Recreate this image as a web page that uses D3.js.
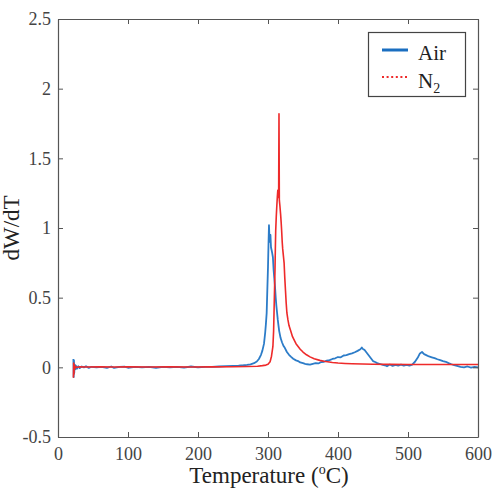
<!DOCTYPE html>
<html><head><meta charset="utf-8">
<script src="https://cdn.jsdelivr.net/npm/d3@7"></script>
<style>body{margin:0;background:#fff}svg{display:block}</style>
</head><body>
<script>
const xTicks = [0,100,200,300,400,500,600];
const yTicks = [-0.5,0,0.5,1,1.5,2,2.5];
const yTickLabels = ["-0.5","0","0.5","1","1.5","2","2.5"];
const seriesNames = ["Air","N2"];
// Air: [temperature, dW/dT]
const airData = [
[22,0.06],[22.4,-0.07],[22.8,0.05],[23.2,-0.04],[23.8,0.02],[24.5,-0.015],[25.5,0.012],[27,-0.01],[29,0.008],[31,-0.006],[34,0.006],[37,0],[40,0.008],[44,-0.004],[48,0.004],[55,0],[62,0.004],[70,-0.004],[76,0.006],[80,-0.004],[88,0.003],[95,0.005],[100,-0.003],[110,0.004],[120,0],[130,0.004],[140,-0.003],[150,0.003],[160,0],[170,0.004],[180,-0.002],[190,0.006],[200,0],[210,0.004],[220,0.003],[230,0.006],[240,0.008],[250,0.01],[258,0.012],[265,0.015],[270,0.018],[275,0.022],[280,0.03],[284,0.042],[287,0.06],[290,0.09],[292,0.12],[294.3,0.17],[296,0.25],[297,0.31],[298.1,0.39],[299,0.55],[300,0.72],[300.7,0.88],[301.4,1.02],[302,0.94],[302.8,0.9],[303.5,0.95],[304.3,0.86],[305.2,0.84],[306,0.82],[307,0.79],[308,0.7],[309,0.64],[310,0.58],[311,0.5],[312,0.44],[313,0.39],[314,0.34],[315,0.3],[316,0.26],[318,0.21],[320,0.18],[322,0.155],[324,0.14],[327,0.11],[330,0.09],[333,0.075],[336,0.062],[340,0.05],[343,0.045],[346,0.035],[350,0.03],[353,0.025],[356,0.022],[360,0.02],[364,0.025],[368,0.03],[372,0.028],[376,0.038],[380,0.04],[384,0.048],[388,0.052],[392,0.06],[396,0.065],[400,0.074],[404,0.072],[408,0.085],[412,0.088],[416,0.095],[420,0.1],[424,0.108],[428,0.118],[432,0.13],[434,0.142],[436,0.13],[438,0.125],[441,0.105],[444,0.085],[447,0.065],[450,0.045],[453,0.038],[456,0.03],[460,0.024],[464,0.018],[467,0.015],[470,0.008],[474,0.02],[478,0.01],[482,0.018],[486,0.012],[490,0.02],[494,0.012],[498,0.018],[502,0.012],[506,0.02],[510,0.04],[514,0.07],[517,0.1],[520,0.11],[523,0.095],[526,0.088],[530,0.078],[534,0.072],[538,0.066],[542,0.058],[546,0.052],[550,0.045],[554,0.04],[558,0.03],[562,0.022],[566,0.015],[570,0.01],[575,0.003],[580,0.0],[585,0.006],[590,-0.002],[595,0.004],[600,0.0]
];
// N2: [temperature, dW/dT]
const n2Data = [
[22,-0.075],[22.4,0.03],[22.8,-0.05],[23.3,0.02],[24,-0.01],[25,0.005],[27,0],[30,0.003],[40,0.002],[60,0.003],[80,0.002],[100,0.003],[130,0.002],[160,0.003],[190,0.002],[220,0.003],[250,0.004],[270,0.006],[285,0.008],[292,0.012],[297,0.016],[300,0.022],[303,0.04],[305,0.08],[307,0.15],[308,0.26],[308.6,0.39],[309.3,0.55],[310,0.7],[310.5,0.85],[311,0.98],[311.8,1.08],[312.5,1.15],[313.3,1.22],[314,1.27],[314.6,1.24],[315.2,1.22],[315.7,1.82],[316.2,1.2],[317,1.16],[318,1.1],[318.8,1.04],[319.5,0.98],[320.3,0.9],[321,0.85],[322,0.8],[322.6,0.77],[323,0.75],[324,0.64],[325,0.55],[326,0.46],[327,0.39],[328.5,0.34],[330,0.3],[332.5,0.26],[335,0.22],[338,0.19],[340,0.17],[343,0.15],[346,0.13],[350,0.11],[355,0.09],[360,0.075],[366,0.062],[374,0.05],[380,0.044],[385,0.04],[392,0.035],[400,0.031],[410,0.028],[420,0.026],[435,0.024],[450,0.022],[475,0.021],[500,0.02],[530,0.02],[560,0.02],[600,0.02]
];

const W = 494, H = 489;
const m = {left:58, right:16, top:19, bottom:52};
const svg = d3.select("body").append("svg").attr("width",W).attr("height",H);
const x = d3.scaleLinear().domain([0,600]).range([m.left, W-m.right]);
const y = d3.scaleLinear().domain([-0.5,2.5]).range([H-m.bottom, m.top]);
const font = "'Times New Roman', 'Liberation Serif', 'DejaVu Serif', serif";
const axisColor = "#555";

// data lines
const line = d3.line().x(d=>x(d[0])).y(d=>y(d[1]));
svg.append("path").datum(airData).attr("d",line).attr("fill","none")
  .attr("stroke","#2c7cc8").attr("stroke-width",1.8).attr("stroke-linejoin","round");
svg.append("path").datum(n2Data).attr("d",line).attr("fill","none")
  .attr("stroke","#ee2a2a").attr("stroke-width",1.6).attr("stroke-linejoin","round");

// axes (inward ticks, box)
const tl = 5;
const gB = svg.append("g").attr("transform",`translate(0,${y(-0.5)})`)
  .call(d3.axisBottom(x).tickValues(xTicks).tickSizeInner(-tl).tickSizeOuter(0).tickPadding(10));
const gT = svg.append("g").attr("transform",`translate(0,${y(2.5)})`)
  .call(d3.axisTop(x).tickValues(xTicks).tickSizeInner(-tl).tickSizeOuter(0).tickFormat(""));
const gL = svg.append("g").attr("transform",`translate(${x(0)},0)`)
  .call(d3.axisLeft(y).tickValues(yTicks).tickSizeInner(-tl).tickSizeOuter(0).tickPadding(7)
  .tickFormat((d,i)=>yTickLabels[i]));
const gR = svg.append("g").attr("transform",`translate(${x(600)},0)`)
  .call(d3.axisRight(y).tickValues(yTicks).tickSizeInner(-tl).tickSizeOuter(0).tickFormat(""));
[gB,gT,gL,gR].forEach(g=>{
  g.attr("font-family",null);
  g.select(".domain").attr("stroke",axisColor).attr("stroke-width",1.2);
  g.selectAll(".tick line").attr("stroke",axisColor);
  g.selectAll("text").style("font-family",font).attr("font-size",18).attr("fill","#444");
});

// axis labels
const xl = svg.append("text").attr("x",269).attr("y",483).attr("text-anchor","middle")
  .style("font-family",font).attr("font-size",23).attr("fill","#222");
xl.append("tspan").text("Temperature (");
xl.append("tspan").attr("font-size",14).attr("dy",-9).text("o");
xl.append("tspan").attr("dy",9).text("C)");
svg.append("text").attr("transform",`translate(19,${y(1)}) rotate(-90)`).attr("text-anchor","middle")
  .style("font-family",font).attr("font-size",23).attr("fill","#222").text("dW/dT");

// legend
const lg = svg.append("g");
lg.append("rect").attr("x",368.5).attr("y",32.5).attr("width",97).attr("height",64)
  .attr("fill","#fff").attr("stroke","#444").attr("stroke-width",1.2);
lg.append("line").attr("x1",382).attr("x2",408).attr("y1",50).attr("y2",50)
  .attr("stroke","#1a6ec0").attr("stroke-width",3);
lg.append("line").attr("x1",382).attr("x2",408).attr("y1",77).attr("y2",77)
  .attr("stroke","#ee2a2a").attr("stroke-width",2.2).attr("stroke-dasharray","2,2.6");
lg.append("text").attr("x",418).attr("y",60).style("font-family",font).attr("font-size",21)
  .attr("fill","#222").text(seriesNames[0]);
const nt = lg.append("text").attr("x",418).attr("y",88).style("font-family",font).attr("font-size",21).attr("fill","#222");
nt.append("tspan").text("N");
nt.append("tspan").attr("font-size",14).attr("dy",5).text("2");
</script>
</body></html>
